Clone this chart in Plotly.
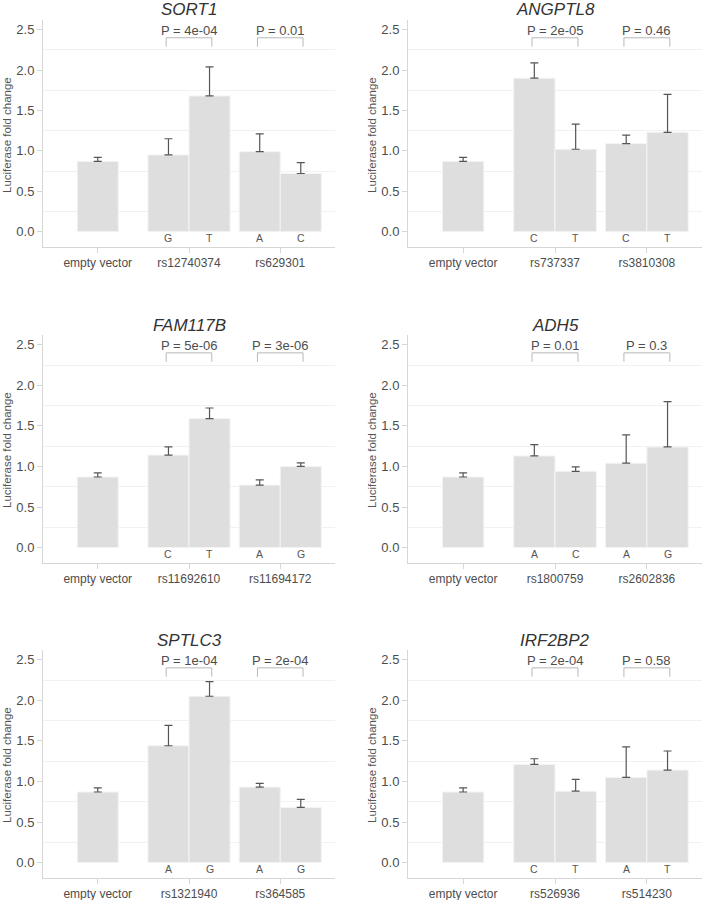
import plotly.graph_objects as go

genes = ["SORT1", "ANGPTL8", "FAM117B", "ADH5", "SPTLC3", "IRF2BP2"]
snp_a = ["rs12740374", "rs737337", "rs11692610", "rs1800759", "rs1321940", "rs526936"]
snp_b = ["rs629301", "rs3810308", "rs11694172", "rs2602836", "rs364585", "rs514230"]
alleles_a = [["G", "T"], ["C", "T"], ["C", "T"], ["A", "C"], ["A", "G"], ["C", "T"]]
alleles_b = [["A", "C"], ["C", "T"], ["A", "G"], ["A", "G"], ["A", "G"], ["A", "T"]]
empty_mean = [0.87, 0.87, 0.87, 0.87, 0.87, 0.87]
empty_err = [0.05, 0.05, 0.05, 0.05, 0.05, 0.05]
mean_a = [[0.95, 1.68], [1.90, 1.02], [1.14, 1.59], [1.13, 0.94], [1.44, 2.05], [1.21, 0.88]]
err_a = [[0.20, 0.36], [0.19, 0.31], [0.10, 0.13], [0.14, 0.055], [0.25, 0.18], [0.07, 0.145]]
mean_b = [[0.99, 0.72], [1.09, 1.23], [0.77, 1.00], [1.04, 1.24], [0.93, 0.68], [1.05, 1.14]]
err_b = [[0.22, 0.135], [0.105, 0.47], [0.065, 0.045], [0.35, 0.56], [0.045, 0.10], [0.375, 0.235]]
p_a = ["4e-04", "2e-05", "5e-06", "0.01", "1e-04", "2e-04"]
p_b = ["0.01", "0.46", "3e-06", "0.3", "2e-04", "0.58"]

W, H = 704, 900
col_px = [(43, 335), (408, 702)]
row_px = [(20, 247), (335, 563), (650, 878)]

BAR = "#dedede"
EDGE = "#f4f4f4"
ERR = "#555555"
AX = "#d6d6d6"
TXT = "#4d4d4d"
FONT = "Liberation Sans, Arial, sans-serif"
BW = 0.45

fig = go.Figure()
annotations = []
shapes = []
layout = {}

for k, gene in enumerate(genes):
    r, c = divmod(k, 2)
    n = k + 1
    xa = "x" if n == 1 else f"x{n}"
    ya = "y" if n == 1 else f"y{n}"
    cats = ["empty vector", snp_a[k], snp_b[k]]

    def bar(x, y, e, offset):
        return go.Bar(
            x=x, y=y, xaxis=xa, yaxis=ya, width=BW, offset=offset,
            marker=dict(color=BAR, line=dict(color=EDGE, width=1)),
            error_y=dict(type="data", array=e, arrayminus=[0] * len(e), symmetric=False,
                         color=ERR, thickness=1.2, width=4),
            showlegend=False, hoverinfo="x+y",
        )

    fig.add_trace(bar([cats[0]], [empty_mean[k]], [empty_err[k]], -BW / 2))
    fig.add_trace(bar([cats[1], cats[2]], [mean_a[k][0], mean_b[k][0]],
                      [err_a[k][0], err_b[k][0]], -BW))
    fig.add_trace(bar([cats[1], cats[2]], [mean_a[k][1], mean_b[k][1]],
                      [err_a[k][1], err_b[k][1]], 0))

    x0, x1 = col_px[c]
    y0, y1 = row_px[r]
    xkey = "xaxis" if n == 1 else f"xaxis{n}"
    ykey = "yaxis" if n == 1 else f"yaxis{n}"
    layout[xkey] = dict(
        domain=[x0 / W, x1 / W], anchor=ya, type="category",
        categoryorder="array", categoryarray=cats, range=[-0.6, 2.6],
        showline=True, linecolor=AX, linewidth=1, ticks="outside", ticklen=5,
        tickcolor=AX, showgrid=False, zeroline=False,
        tickfont=dict(size=12, color=TXT, family=FONT), fixedrange=True,
    )
    layout[ykey] = dict(
        domain=[1 - y1 / H, 1 - y0 / H], anchor=xa, range=[-0.19, 2.62],
        tickvals=[0, 0.5, 1.0, 1.5, 2.0, 2.5], ticktext=["0.0", "0.5", "1.0", "1.5", "2.0", "2.5"],
        showline=True, linecolor=AX, linewidth=1, ticks="outside", ticklen=5,
        tickcolor=AX, showgrid=False, zeroline=False,
        minor=dict(tickvals=[0.25, 0.75, 1.25, 1.75, 2.25], showgrid=True,
                   gridcolor="#f1f1f1", gridwidth=1, ticks=""),
        tickfont=dict(size=13, color=TXT, family=FONT), fixedrange=True,
    )

    # title
    annotations.append(dict(
        text=f"<i>{gene}</i>", xref="paper", yref="paper",
        x=(x0 + x1) / 2 / W, y=1 - (y0 - 10) / H, xanchor="center", yanchor="middle",
        showarrow=False, font=dict(size=17, color="#333333", family=FONT)))
    # y-axis title
    annotations.append(dict(
        text="Luciferase fold change", xref="paper", yref="paper",
        x=(x0 - 36) / W, y=1 - (y0 + 115) / H, xanchor="center", yanchor="middle",
        textangle=-90, showarrow=False, font=dict(size=11.5, color="#555555", family=FONT)))

    for gi, (alle, pval) in enumerate([(alleles_a[k], p_a[k]), (alleles_b[k], p_b[k])]):
        ci = gi + 1
        for j, a in enumerate(alle):
            annotations.append(dict(
                text=a, xref=xa, yref=ya, x=ci - BW / 2 + j * BW, y=-0.08,
                xanchor="center", yanchor="middle", showarrow=False,
                font=dict(size=10.5, color="#555555", family=FONT)))
        annotations.append(dict(
            text=f"P = {pval}", xref=xa, yref=ya, x=ci, y=2.49,
            xanchor="center", yanchor="middle", showarrow=False,
            font=dict(size=13, color=TXT, family=FONT)))
        line = dict(color="#b8b8b8", width=1)
        shapes.append(dict(type="line", xref=xa, yref=ya, x0=ci - 0.25, x1=ci + 0.25,
                           y0=2.40, y1=2.40, line=line))
        shapes.append(dict(type="line", xref=xa, yref=ya, x0=ci - 0.25, x1=ci - 0.25,
                           y0=2.29, y1=2.40, line=line))
        shapes.append(dict(type="line", xref=xa, yref=ya, x0=ci + 0.25, x1=ci + 0.25,
                           y0=2.29, y1=2.40, line=line))

fig.update_layout(
    width=W, height=H, margin=dict(l=0, r=0, t=0, b=0),
    paper_bgcolor="white", plot_bgcolor="white", barmode="overlay",
    font=dict(family=FONT, color=TXT), annotations=annotations, shapes=shapes,
    **layout,
)

fig.write_html(
    "out.html",
    config={"displayModeBar": False},
    post_script="document.body.style.margin='0';document.body.style.padding='0';"
                "document.body.style.overflow='hidden';",
)
